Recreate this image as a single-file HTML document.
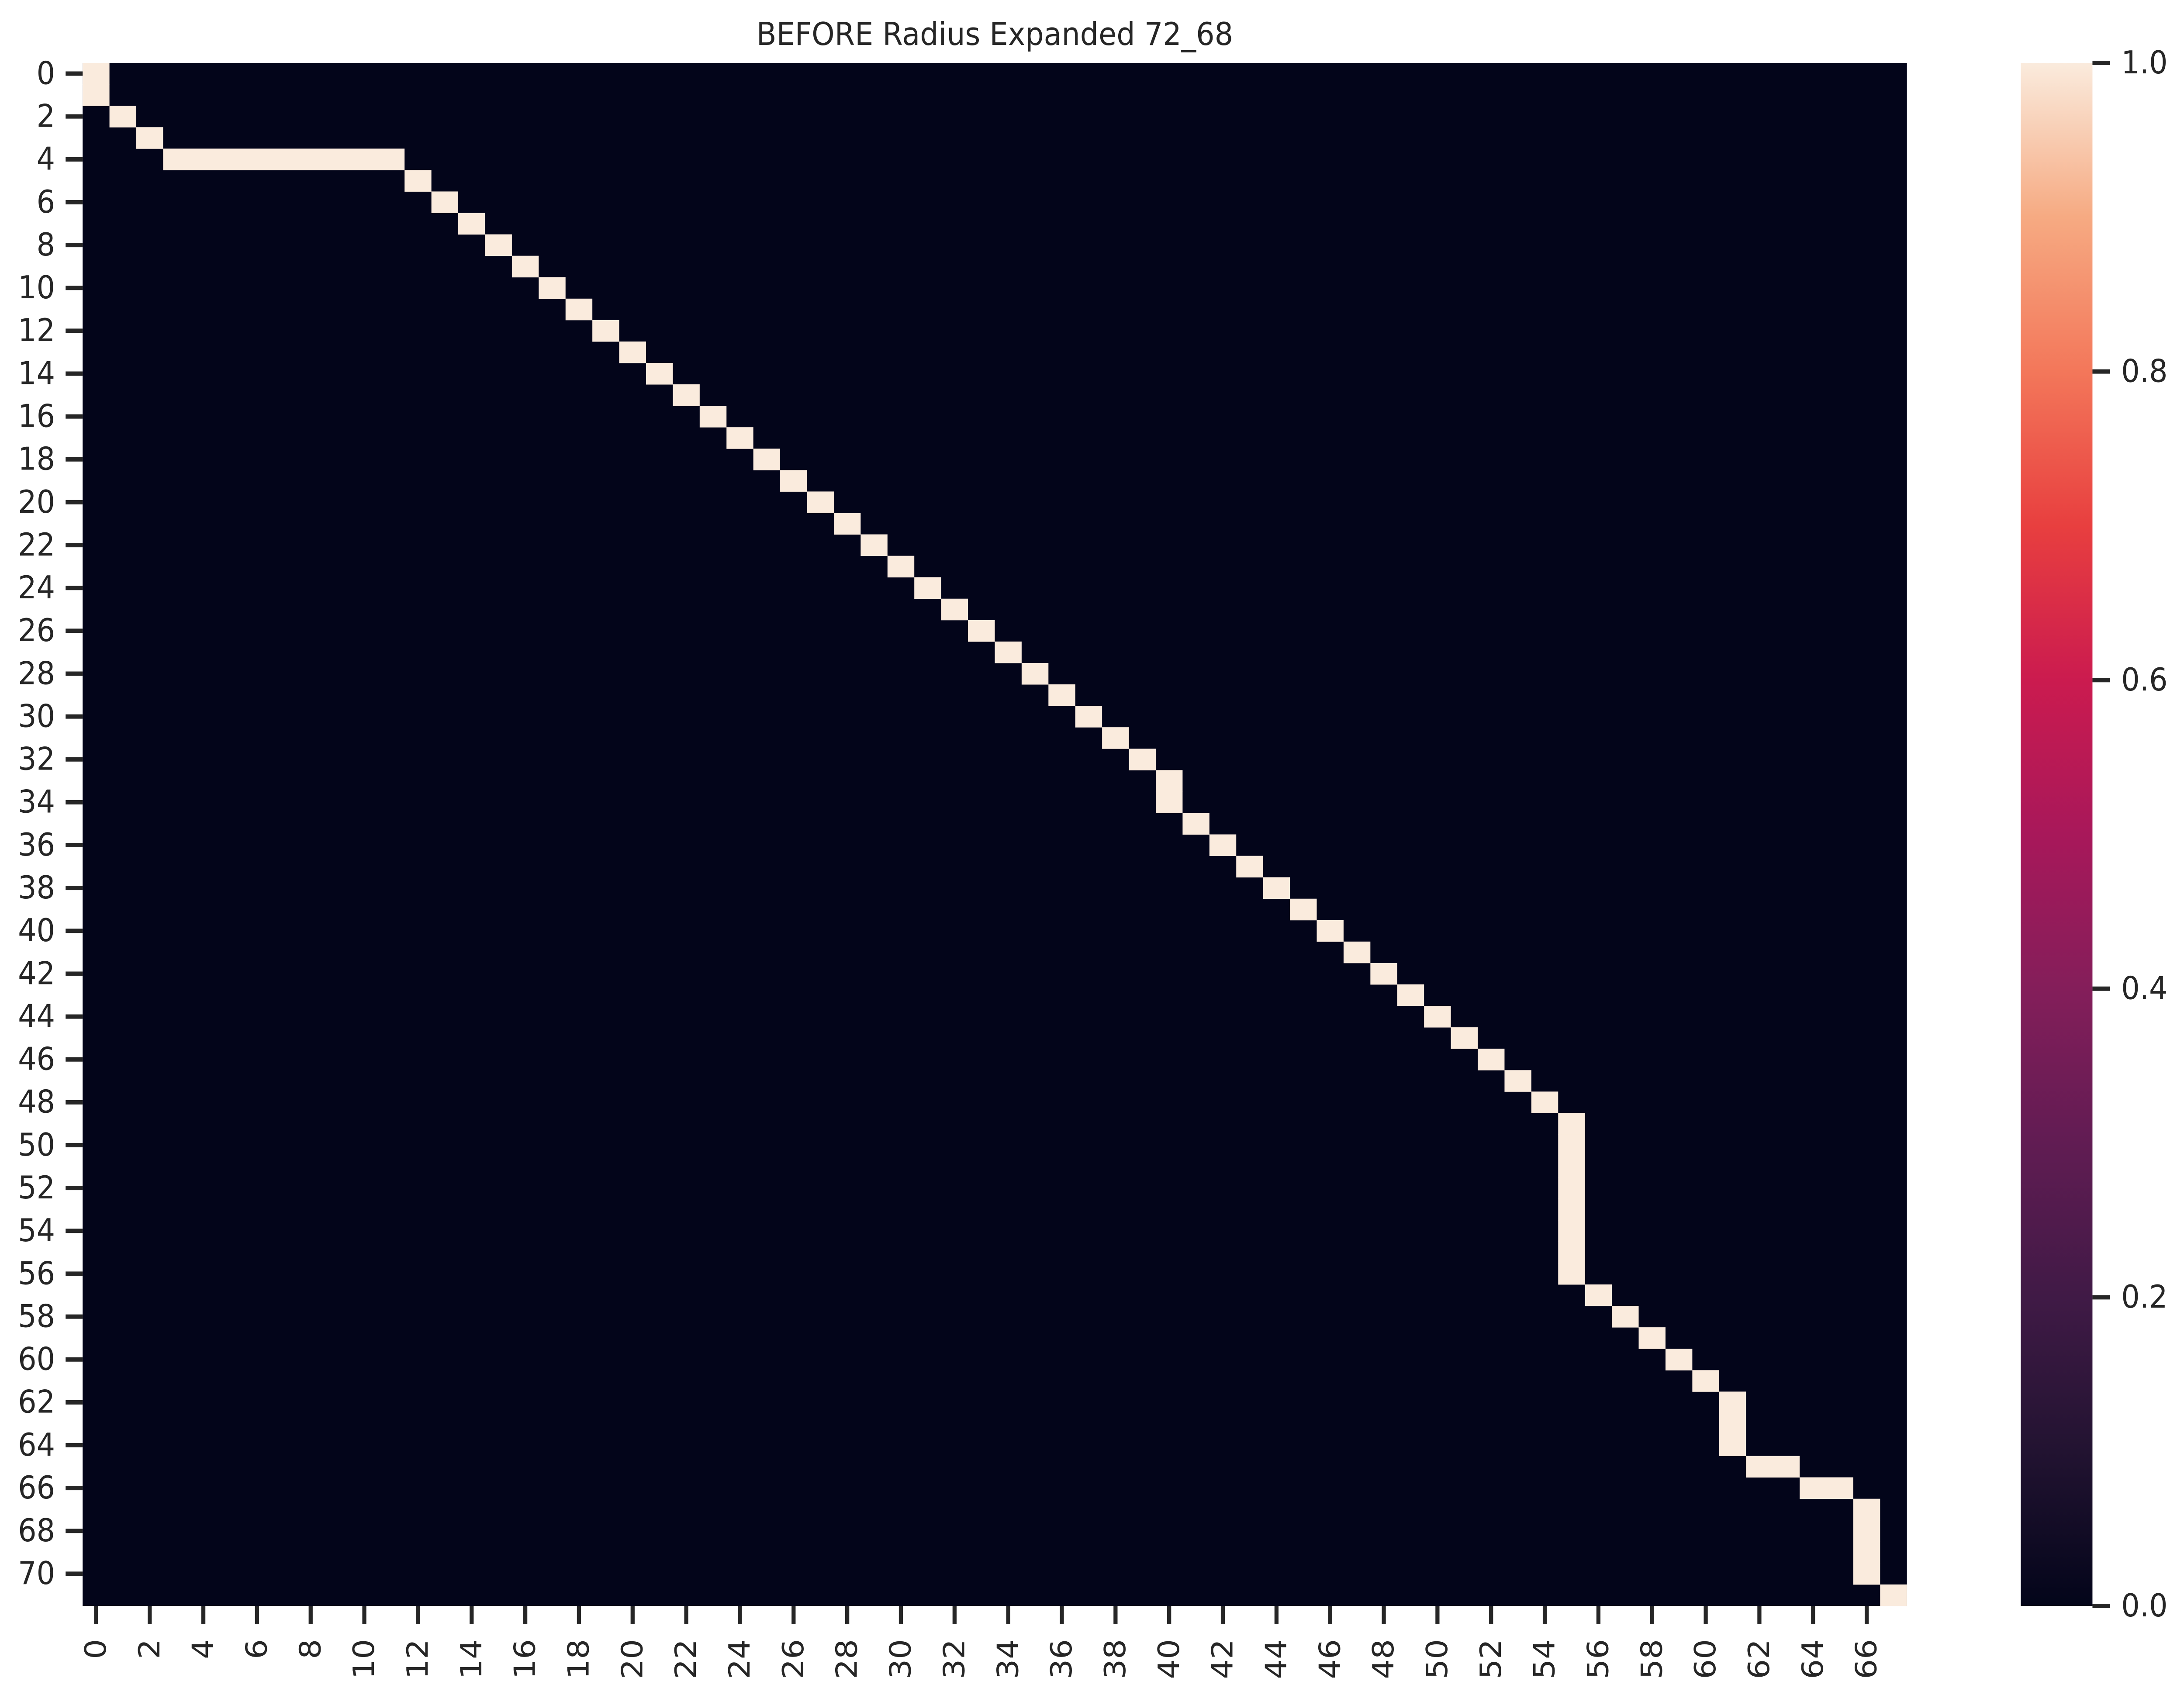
<!DOCTYPE html>
<html><head><meta charset="utf-8"><style>
html,body{margin:0;padding:0;background:#fff;overflow:hidden;width:100%;height:100%;}
svg{display:block;width:100vw;height:100vh;font-family:"DejaVu Sans","Liberation Sans",sans-serif;}
</style></head><body>
<svg id="chart" viewBox="0 0 5392 3881" preserveAspectRatio="none" xmlns="http://www.w3.org/2000/svg">
<defs>
<linearGradient id="rocket" x1="0" y1="1" x2="0" y2="0">
<stop offset="0" stop-color="#03051a"/>
<stop offset="0.1" stop-color="#221331"/>
<stop offset="0.2" stop-color="#401a46"/>
<stop offset="0.3" stop-color="#611c53"/>
<stop offset="0.4" stop-color="#841e5a"/>
<stop offset="0.5" stop-color="#a8185a"/>
<stop offset="0.6" stop-color="#cb1b4f"/>
<stop offset="0.7" stop-color="#e83f3f"/>
<stop offset="0.8" stop-color="#f3775a"/>
<stop offset="0.9" stop-color="#f6aa82"/>
<stop offset="1" stop-color="#faebdd"/>
</linearGradient>
</defs>
<text x="2456" y="103" font-size="72" text-anchor="middle" fill="#262626">BEFORE Radius Expanded 72_68</text>
<g id="cells"></g>
<g id="axes"></g>
<rect x="4989" y="144" width="177" height="3533" fill="url(#rocket)"/>
<g id="cbar"></g>
</svg>
<script>
// data: for each row, the range of columns with value 1 (others 0)
const nRows = 72;
const nCols = 68;
const rowIndex = [0,1,2,3,4,5,6,7,8,9,10,11,12,13,14,15,16,17,18,19,20,21,22,23,24,25,26,27,28,29,30,31,32,33,34,35,36,37,38,39,40,41,42,43,44,45,46,47,48,49,50,51,52,53,54,55,56,57,58,59,60,61,62,63,64,65,66,67,68,69,70,71];
const colStart = [0,0,1,2,3,12,13,14,15,16,17,18,19,20,21,22,23,24,25,26,27,28,29,30,31,32,33,34,35,36,37,38,39,40,40,41,42,43,44,45,46,47,48,49,50,51,52,53,54,55,55,55,55,55,55,55,55,56,57,58,59,60,61,61,61,62,64,66,66,66,66,67];
const colEnd   = [0,0,1,2,11,12,13,14,15,16,17,18,19,20,21,22,23,24,25,26,27,28,29,30,31,32,33,34,35,36,37,38,39,40,40,41,42,43,44,45,46,47,48,49,50,51,52,53,54,55,55,55,55,55,55,55,55,56,57,58,59,60,61,61,61,63,65,66,66,66,66,67];
const xTickLabels = ["0","2","4","6","8","10","12","14","16","18","20","22","24","26","28","30","32","34","36","38","40","42","44","46","48","50","52","54","56","58","60","62","64","66"];
const yTickLabels = ["0","2","4","6","8","10","12","14","16","18","20","22","24","26","28","30","32","34","36","38","40","42","44","46","48","50","52","54","56","58","60","62","64","66","68","70"];
const cbarTicks = [0.0,0.2,0.4,0.6,0.8,1.0];

const NS = "http://www.w3.org/2000/svg";
const L = 204, R = 4708, T = 144, B = 3677;
const cw = (R - L) / nCols, rh = (B - T) / nRows;
const xs = c => L + c * cw;
const ys = r => T + r * rh;
const cbY = v => B - v * (B - T);
const DARK = "#03051a", LIGHT = "#faebdd", INK = "#262626";

function mk(tag, attrs, parent){
  const e = document.createElementNS(NS, tag);
  for (const k in attrs) e.setAttribute(k, attrs[k]);
  parent.appendChild(e);
  return e;
}
const cells = document.getElementById("cells");
const bg = mk("rect", {x:L, y:T, width:R-L, height:B-T, fill:DARK}, cells);


rowIndex.forEach((r, i) => {
  const x0 = xs(colStart[i]), x1 = xs(colEnd[i] + 1);
  const el = mk("rect", {x:x0, y:ys(r), width:x1-x0, height:rh+0.5, fill:LIGHT}, cells);
  
  
});

const axes = document.getElementById("axes");
yTickLabels.forEach(lab => {
  const r = parseInt(lab, 10);
  const y = ys(r + 0.5);
  const t = mk("line", {x1:162, y1:y, x2:204, y2:y, stroke:INK, "stroke-width":10}, axes);
  
  
  const tx = mk("text", {x:136, y:y, "font-size":72, fill:INK, "text-anchor":"end", "dominant-baseline":"central"}, axes);
  tx.textContent = lab;
  
  
});
xTickLabels.forEach(lab => {
  const c = parseInt(lab, 10);
  const x = xs(c + 0.5);
  const t = mk("line", {x1:x, y1:3677, x2:x, y2:3719, stroke:INK, "stroke-width":10}, axes);
  
  
  const tx = mk("text", {x:x, y:3753, "font-size":72, fill:INK, "text-anchor":"end", "dominant-baseline":"central", transform:`rotate(-90 ${x} 3753)`}, axes);
  tx.textContent = lab;
  
  
});

const cbar = document.getElementById("cbar");
cbarTicks.forEach(v => {
  const y = cbY(v);
  const t = mk("line", {x1:5166, y1:y, x2:5209, y2:y, stroke:INK, "stroke-width":10}, cbar);
  
  
  const tx = mk("text", {x:5237, y:y, "font-size":72, fill:INK, "dominant-baseline":"central"}, cbar);
  tx.textContent = v.toFixed(1);
  
  
});
</script>
</body></html>
